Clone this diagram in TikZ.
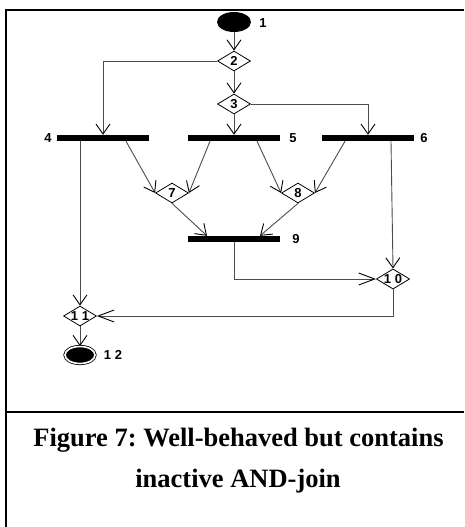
\documentclass[tikz,border=0pt]{standalone}
\usepackage{fontspec}
\setmainfont{Liberation Serif}
\newfontfamily\labfont{Liberation Sans}
\usetikzlibrary{shapes.geometric,arrows.meta}
\frenchspacing
\begin{document}
\begin{tikzpicture}[x=1pt,y=-1pt, every node/.style={font=\labfont\bfseries\fontsize{13}{15}\selectfont},
  bar/.style={fill=black,inner sep=0pt,minimum width=92pt,minimum height=6pt},
  choice/.style={diamond,draw,line width=0.8pt,aspect=1.65,inner sep=0pt,minimum width=33pt,minimum height=20pt,fill=white},
  flow/.style={draw=black!70,line width=0.9pt,-{Straight Barb[length=10pt,width=14pt,black]}},
  hflow/.style={flow,-{Straight Barb[length=16pt,width=12pt,black]}},
  lab/.style={inner sep=1pt},
  captext/.style={anchor=base,font=\bfseries\fontsize{26.5}{36}\selectfont}]
\useasboundingbox (0,0) rectangle (464,527);
% frame and caption
\draw[line width=2pt] (5.5,527) -- (5.5,10) -- (464,10);
\draw[line width=2pt] (5.5,412) -- (464,412);
\node[captext] (cap1) at (238.5,446) {Figure 7: Well-behaved but contains};
\node[captext] (cap2) at (238,487) {inactive AND-join};
% nodes
\node[ellipse,fill=black,inner sep=0pt,minimum width=34pt,minimum height=20pt] (n1) at (234,22) {};
\node[choice] (n2) at (234,61) {2};
\node[choice] (n3) at (234,104) {3};
\node[bar] (b4) at (103,138) {};
\node[bar] (b5) at (234,138) {};
\node[bar] (b6) at (368,138) {};
\node[choice] (n7) at (172,193) {7};
\node[choice] (n8) at (298,193) {8};
\node[bar] (b9) at (234,239) {};
\node[choice] (n10) at (393,279) {1 0};
\node[choice] (n11) at (80,316) {1 1};
\node[ellipse,draw,fill=black,double,double distance=1.6pt,line width=0.8pt,inner sep=0pt,minimum width=30pt,minimum height=17pt] (n12) at (80,355) {};
% labels
\node[lab] (l1) at (263,23) {1};
\node[lab] (l4) at (48,138) {4};
\node[lab] (l5) at (293,138) {5};
\node[lab] (l6) at (424,138) {6};
\node[lab] (l9) at (296,239) {9};
\node[lab] (l12) at (113,355) {1 2};
% connectors
\draw[flow] (n1) -- (n2);
\draw[flow] (n2) -- (n3);
\draw[flow] (n3) -- (b5);
\draw[flow] (n2.west) -| (b4.north);
\draw[flow] (n3.east) -| (b6.north);
\draw[flow] ([xshift=23pt]b4.south) -- (n7.west);
\draw[flow] ([xshift=-24pt]b5.south) -- (n7.east);
\draw[flow] ([xshift=23pt]b5.south) -- (n8.west);
\draw[flow] ([xshift=-23pt]b6.south) -- (n8.east);
\draw[flow] (n7.south) -- ([xshift=-27pt]b9.north);
\draw[flow] (n8.south) -- ([xshift=26pt]b9.north);
\draw[hflow] (b9.south) |- (n10.west);
\draw[flow] ([xshift=23pt]b6.south) -- (n10.north);
\draw[flow] (n11 |- b4.south) -- (n11.north);
\draw[hflow] (n10.south) |- (n11.east);
\draw[flow] (n11) -- (n12);
\end{tikzpicture}
\end{document}
